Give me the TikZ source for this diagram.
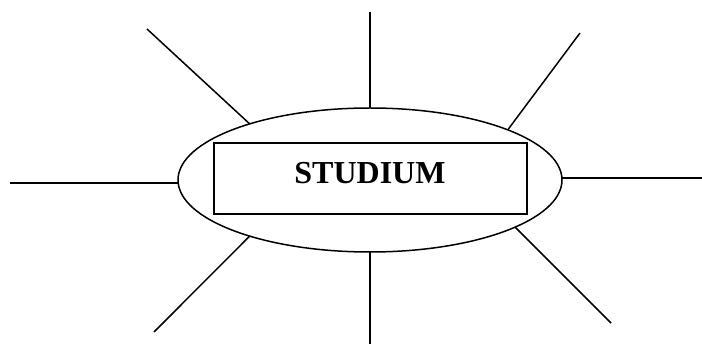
\documentclass[tikz,border=0pt]{standalone}
\usepackage{fontspec}
\setmainfont{Liberation Serif}
\usetikzlibrary{shapes.geometric}

\begin{document}
\begin{tikzpicture}[
    x=1pt, y=-1pt,
    ray/.style={line width=1.5pt},
    blob/.style={ellipse, draw, line width=1.5pt, minimum width=384pt, minimum height=144pt, inner sep=0pt, outer sep=0pt},
    frame/.style={rectangle, draw, line width=1.5pt, minimum width=313pt, minimum height=71pt, inner sep=0pt}
]
    \useasboundingbox (0,0) rectangle (702,344);

    \node[blob] (topic) at (370,180) {};
    \node[frame] (box) at (370.5,178.5) {};
    \node[font=\fontsize{32}{38}\selectfont\bfseries] (title) at (370,173) {STUDIUM};

    % free ends of the rays
    \coordinate (tl) at (147,29);
    \coordinate (t) at (370,12);
    \coordinate (tr) at (580,33);
    \coordinate (l) at (10,183);
    \coordinate (r) at (702,178);
    \coordinate (bl) at (154,332);
    \coordinate (b) at (370,344);
    \coordinate (br) at (611,323);

    \draw[ray] (tl) -- (topic.155);
    \draw[ray] (t) -- (topic.90);
    \draw[ray] (tr) -- (topic.20);
    \draw[ray] (l) -- (l -| topic.west);
    \draw[ray] (r) -- (r -| topic.east);
    \draw[ray] (bl) -- (topic.205);
    \draw[ray] (b) -- (topic.270);
    \draw[ray] (br) -- (topic.342);
\end{tikzpicture}
\end{document}
